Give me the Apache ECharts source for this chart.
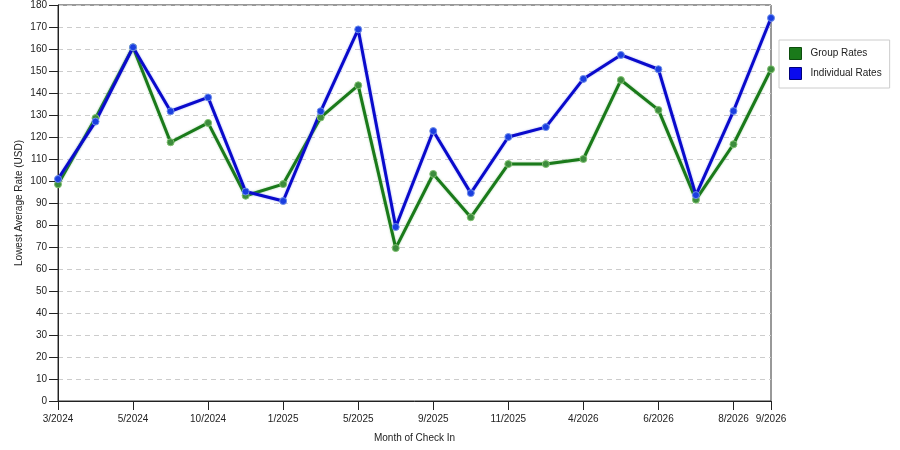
<!DOCTYPE html>
<html>
<head>
<meta charset="utf-8">
<script src="https://cdn.jsdelivr.net/npm/echarts@6/dist/echarts.min.js"></script>
<style>
  html, body { margin: 0; padding: 0; background: #fff; }
  #main { width: 900px; height: 450px; }
</style>
</head>
<body>
<div id="main"></div>
<script>
// months on the x axis (only every other one is labelled in the picture)
var months = ['3/2024', '4/2024', '5/2024', '7/2024', '10/2024', '12/2024', '1/2025', '3/2025',
  '5/2025', '7/2025', '9/2025', '10/2025', '11/2025', '1/2026', '4/2026', '5/2026',
  '6/2026', '7/2026', '8/2026', '9/2026'];
var groupRates = [98.5, 128.6, 160.8, 117.6, 126.4, 93.3, 98.6, 128.9, 143.5, 69.5,
  103.2, 83.5, 107.7, 107.7, 110, 145.9, 132.3, 91.5, 116.7, 150.8];
var individualRates = [100.9, 127, 160.8, 131.7, 138, 95.2, 90.9, 131.7, 168.9, 79.1,
  122.7, 94.5, 120, 124.5, 146.4, 157.3, 150.8, 93.6, 131.8, 174.1];

var FONT = '"Liberation Sans", Arial, sans-serif';

// labelled months: every other one plus the last
function shown(i) {
  return i % 2 === 0 || i === months.length - 1;
}

var chart = echarts.init(document.getElementById('main'));
chart.setOption({
  animation: false,
  textStyle: { fontFamily: FONT },
  grid: {
    left: 58, right: 129, top: 5, bottom: 49,
    show: true, borderColor: '#333', borderWidth: 1
  },
  // y axis title placed by hand, the axis name kept getting pushed left
  graphic: [{
    type: 'text',
    left: 14, top: 140,
    rotation: Math.PI / 2,
    style: { text: 'Lowest Average Rate (USD)', font: '10px ' + FONT, fill: '#222' }
  }],
  legend: {
    orient: 'vertical',
    left: 779, top: 40,
    padding: [7, 8, 8, 10],
    borderColor: '#ccc', borderWidth: 1,
    itemWidth: 12, itemHeight: 12, itemGap: 7,
    textStyle: { fontSize: 10, color: '#222', fontFamily: FONT, padding: [0, 0, 0, 4] },
    data: [
      { name: 'Group Rates', icon: 'rect', itemStyle: { color: '#1a7a1a', borderColor: '#0d4d0d', borderWidth: 1 } },
      { name: 'Individual Rates', icon: 'rect', itemStyle: { color: '#0a0aee', borderColor: '#00007a', borderWidth: 1 } }
    ]
  },
  xAxis: {
    type: 'category',
    data: months,
    boundaryGap: false,
    name: 'Month of Check In',
    nameLocation: 'middle',
    nameGap: 32,
    nameTextStyle: { fontSize: 10, color: '#222', fontFamily: FONT },
    axisLine: { lineStyle: { color: '#222' } },
    axisTick: { interval: shown, length: 9, lineStyle: { color: '#222' } },
    axisLabel: { interval: shown, fontSize: 10, color: '#222', margin: 13, fontFamily: FONT },
    splitLine: { show: false }
  },
  yAxis: {
    type: 'value',
    min: 0, max: 180, interval: 10,
    axisLine: { show: true, lineStyle: { color: '#222' } },
    axisTick: { show: true, length: 9, lineStyle: { color: '#222' } },
    axisLabel: { fontSize: 10, color: '#222', margin: 11, fontFamily: FONT },
    splitLine: { lineStyle: { color: '#ccc', type: [5, 4] } }
  },
  series: [
    {
      name: 'Group Rates',
      type: 'line',
      data: groupRates,
      symbol: 'circle',
      symbolSize: 7,
      itemStyle: { color: '#3c8c3c', borderColor: '#7fbf6f', borderWidth: 1 },
      lineStyle: { color: '#1a7a1a', width: 3, shadowColor: 'rgba(90,170,90,0.6)', shadowBlur: 2 }
    },
    {
      name: 'Individual Rates',
      type: 'line',
      data: individualRates,
      symbol: 'circle',
      symbolSize: 7,
      itemStyle: { color: '#1a3ee0', borderColor: '#6f8fe8', borderWidth: 1 },
      lineStyle: { color: '#0a0acc', width: 3, shadowColor: 'rgba(90,110,230,0.6)', shadowBlur: 2 }
    }
  ]
});
</script>
</body>
</html>
